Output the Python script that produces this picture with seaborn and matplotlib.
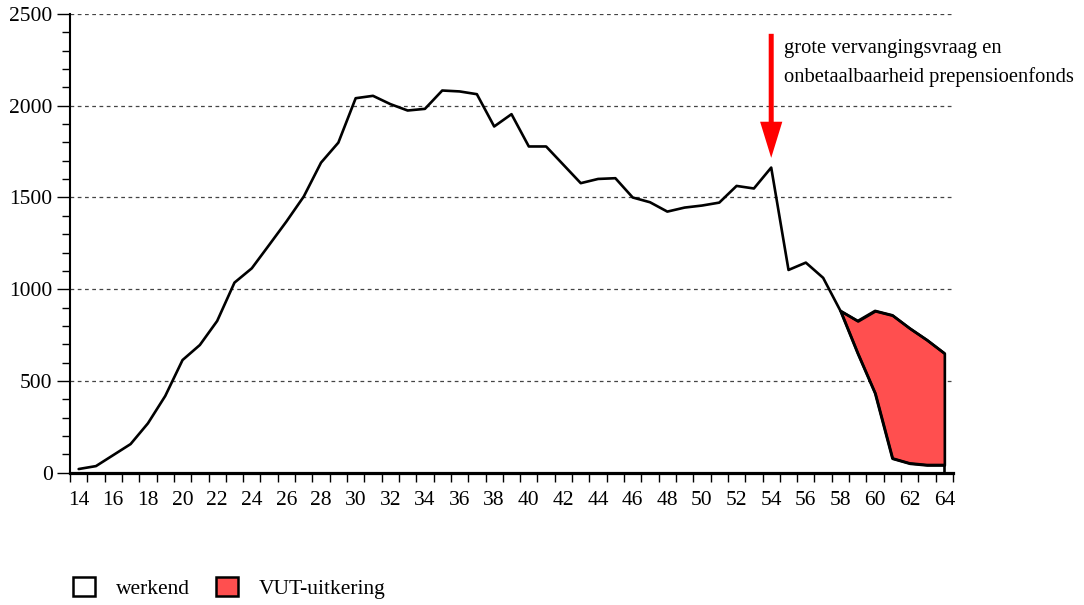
import numpy as np
import pandas as pd
import matplotlib
matplotlib.use("Agg")
import matplotlib.pyplot as plt
from matplotlib.patches import Patch
from matplotlib.ticker import MultipleLocator, FixedLocator
import seaborn as sns

# ---- data ----
ages = list(range(14, 65))
werkend = [20, 36, 96, 156, 269, 418, 614, 696, 827, 1036,
           1114, 1241, 1369, 1505, 1690, 1799, 2041, 2054, 2009, 1974,
           1983, 2083, 2078, 2063, 1887, 1954, 1778, 1778, 1678, 1578,
           1601, 1605, 1500, 1474, 1423, 1445, 1456, 1472, 1563, 1549,
           1663, 1105, 1145, 1062, 882, 650, 433, 78, 51, 42,
           42]
vut_ages = [58, 59, 60, 61, 62, 63, 64]
totaal = [882, 827, 882, 858, 787, 723, 651]

x_ticks = list(range(14, 65, 2))
y_ticks = [0, 500, 1000, 1500, 2000, 2500]
legend_labels = ["werkend", "VUT-uitkering"]
annot_text = "grote vervangingsvraag en\nonbetaalbaarheid prepensioenfonds"
annot_age = 54

df = pd.DataFrame({"leeftijd": ages, "aantal": werkend})
df_vut = pd.DataFrame({"leeftijd": vut_ages, "totaal": totaal})
df_vut["werkend"] = df.set_index("leeftijd").loc[vut_ages, "aantal"].values

sns.set_theme(style="white")
plt.rcParams["font.family"] = ["Liberation Serif", "DejaVu Serif"]
plt.rcParams["text.color"] = "black"
plt.rcParams["xtick.color"] = "black"
plt.rcParams["ytick.color"] = "black"
plt.rcParams["xtick.labelcolor"] = "black"
plt.rcParams["ytick.labelcolor"] = "black"
plt.rcParams["legend.labelcolor"] = "black"

fig = plt.figure(figsize=(10.84, 6.05), dpi=100)
ax = fig.add_axes([70 / 1084, 132.3 / 605, 883 / 1084, 458.7 / 605])

red = "#ff4f4f"
fs = 15.5

# VUT area
ax.fill_between(df_vut["leeftijd"], df_vut["werkend"], df_vut["totaal"],
                facecolor=red, edgecolor="black", linewidth=1.9, zorder=3)
# right edge down to zero
ax.vlines(df_vut["leeftijd"].iloc[-1], 0, df_vut["werkend"].iloc[-1],
          color="black", linewidth=1.9, zorder=4)

sns.lineplot(data=df, x="leeftijd", y="aantal", ax=ax, color="black",
             linewidth=1.9, zorder=4)
sns.lineplot(data=df_vut, x="leeftijd", y="totaal", ax=ax, color="black",
             linewidth=1.9, zorder=4)

ax.set_xlim(13.5, 64.5)
ax.set_ylim(0, 2500)
ax.set_xlabel("")
ax.set_ylabel("")

# grid
for yv in y_ticks[1:]:
    ax.axhline(yv, color="#444444", linewidth=0.9, linestyle=(0, (3, 2.8)),
               zorder=1)

# ticks
ax.xaxis.set_major_locator(FixedLocator(x_ticks))
ax.xaxis.set_minor_locator(FixedLocator(np.arange(13.5, 65, 1.0)))
ax.yaxis.set_major_locator(FixedLocator(y_ticks))
ax.yaxis.set_minor_locator(MultipleLocator(100))
ax.tick_params(axis="x", which="major", length=0, pad=13, labelsize=fs,
               colors="black")
ax.tick_params(axis="x", which="minor", length=6.5, width=1.0,
               direction="out", color="black", bottom=True)
ax.tick_params(axis="y", which="major", length=9.5, width=1.0, pad=3,
               labelsize=fs, direction="out", colors="black", left=True)
ax.tick_params(axis="y", which="minor", length=6, width=1.0,
               direction="out", color="black", left=True)

for s in ["top", "right"]:
    ax.spines[s].set_visible(False)
ax.spines["bottom"].set_linewidth(2.3)
ax.spines["bottom"].set_color("black")
ax.spines["left"].set_linewidth(1.5)
ax.spines["left"].set_color("black")
ax.spines["bottom"].set_zorder(5)

# annotation arrow
ax.annotate("", xy=(annot_age, 1716), xytext=(annot_age, 2392),
            arrowprops=dict(width=3.6, headwidth=16, headlength=26,
                            shrink=0, facecolor="red", edgecolor="none"),
            zorder=6)
ax.text(annot_age + 0.72, 2234, annot_text, fontsize=14.8, va="center",
        ha="left", linespacing=1.62, color="black")

# legend
handles = [Patch(facecolor="white", edgecolor="black", linewidth=1.8),
           Patch(facecolor=red, edgecolor="black", linewidth=1.8)]
fig.legend(handles, legend_labels, loc="center left",
           bbox_to_anchor=(73 / 1084, 17 / 605), ncol=2, frameon=False,
           fontsize=fs, handlelength=1.02, handleheight=1.02,
           handletextpad=0.98, columnspacing=1.2, borderpad=0,
           borderaxespad=0, labelcolor="black")

fig.savefig("out.png", dpi=100)
